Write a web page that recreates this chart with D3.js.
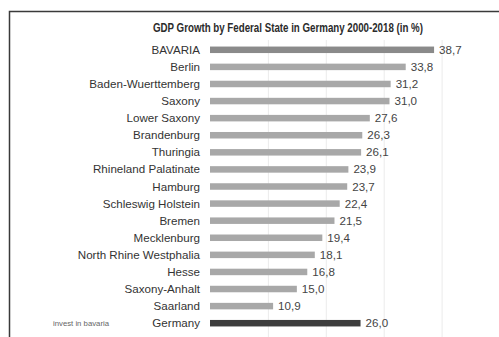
<!DOCTYPE html>
<html>
<head>
<meta charset="utf-8">
<script src="https://cdn.jsdelivr.net/npm/d3@7"></script>
<style>
  html, body { margin: 0; padding: 0; background: #fff; }
  svg { display: block; }
</style>
</head>
<body>
<svg id="chart" width="499" height="337"></svg>
<script>
// GDP growth 2000-2018 per federal state, in percent
const states = [
  "BAVARIA", "Berlin", "Baden-Wuerttemberg", "Saxony", "Lower Saxony",
  "Brandenburg", "Thuringia", "Rhineland Palatinate", "Hamburg",
  "Schleswig Holstein", "Bremen", "Mecklenburg", "North Rhine Westphalia",
  "Hesse", "Saxony-Anhalt", "Saarland", "Germany"
];
const growth = [
  38.7, 33.8, 31.2, 31.0, 27.6, 26.3, 26.1, 23.9, 23.7,
  22.4, 21.5, 19.4, 18.1, 16.8, 15.0, 10.9, 26.0
];
const gridTicks = [0, 10, 20, 30, 40];
const titleText = "GDP Growth by Federal State in Germany 2000-2018 (in %)";
const creditText = "invest in bavaria";

const rows = states.map((s, i) => ({ state: s, value: growth[i] }));

const svg = d3.select("#chart");

// frame (open to the right and bottom)
svg.append("path")
  .attr("d", "M9.5,337 L9.5,11.5 L499,11.5")
  .attr("fill", "none")
  .attr("stroke", "#3a3a3a")
  .attr("stroke-width", 1.5);

const x = d3.scaleLinear().domain([0, 40]).range([210, 441.6]);
const y = d3.scalePoint().domain(states).range([49.8, 323.2]);
const barH = 6.5;

// vertical gridlines
svg.append("g")
  .selectAll("line")
  .data(gridTicks.slice(1))
  .join("line")
  .attr("x1", d => x(d) + 0.5)
  .attr("x2", d => x(d) + 0.5)
  .attr("y1", 40)
  .attr("y2", 337)
  .attr("stroke", "#ebebeb")
  .attr("stroke-width", 1);

// title, condensed bold
svg.append("text")
  .attr("x", 153)
  .attr("y", 32)
  .attr("font-family", "'Liberation Sans', Arial, sans-serif")
  .attr("font-weight", "bold")
  .attr("font-size", 12.5)
  .attr("textLength", 270)
  .attr("lengthAdjust", "spacingAndGlyphs")
  .attr("fill", "#2b2b2b")
  .text(titleText);

const colorFor = d => d.state === "Germany" ? "#3d3d3d" : (d.state === "BAVARIA" ? "#8a8a8a" : "#a8a8a8");

// bars
svg.append("g")
  .selectAll("rect")
  .data(rows)
  .join("rect")
  .attr("x", x(0))
  .attr("y", d => y(d.state) - barH / 2)
  .attr("width", d => x(d.value) - x(0))
  .attr("height", barH)
  .attr("fill", colorFor);

// category labels
svg.append("g")
  .selectAll("text")
  .data(rows)
  .join("text")
  .attr("x", 200)
  .attr("y", d => y(d.state))
  .attr("dy", "0.35em")
  .attr("text-anchor", "end")
  .attr("font-family", "'Liberation Sans', Arial, sans-serif")
  .attr("font-size", 11.6)
  .attr("fill", "#333")
  .text(d => d.state);

// value labels (decimal comma)
svg.append("g")
  .selectAll("text")
  .data(rows)
  .join("text")
  .attr("x", d => x(d.value) + 5)
  .attr("y", d => y(d.state))
  .attr("dy", "0.35em")
  .attr("font-family", "'Liberation Sans', Arial, sans-serif")
  .attr("font-size", 11.6)
  .attr("fill", "#444")
  .text(d => d.value.toFixed(1).replace(".", ","));

// credit
svg.append("text")
  .attr("x", 53)
  .attr("y", y("Germany"))
  .attr("dy", "0.35em")
  .attr("font-family", "'Liberation Sans', sans-serif")
  .attr("font-size", 7)
  .attr("textLength", 56)
  .attr("lengthAdjust", "spacingAndGlyphs")
  .attr("fill", "#666")
  .text(creditText);
</script>
</body>
</html>
